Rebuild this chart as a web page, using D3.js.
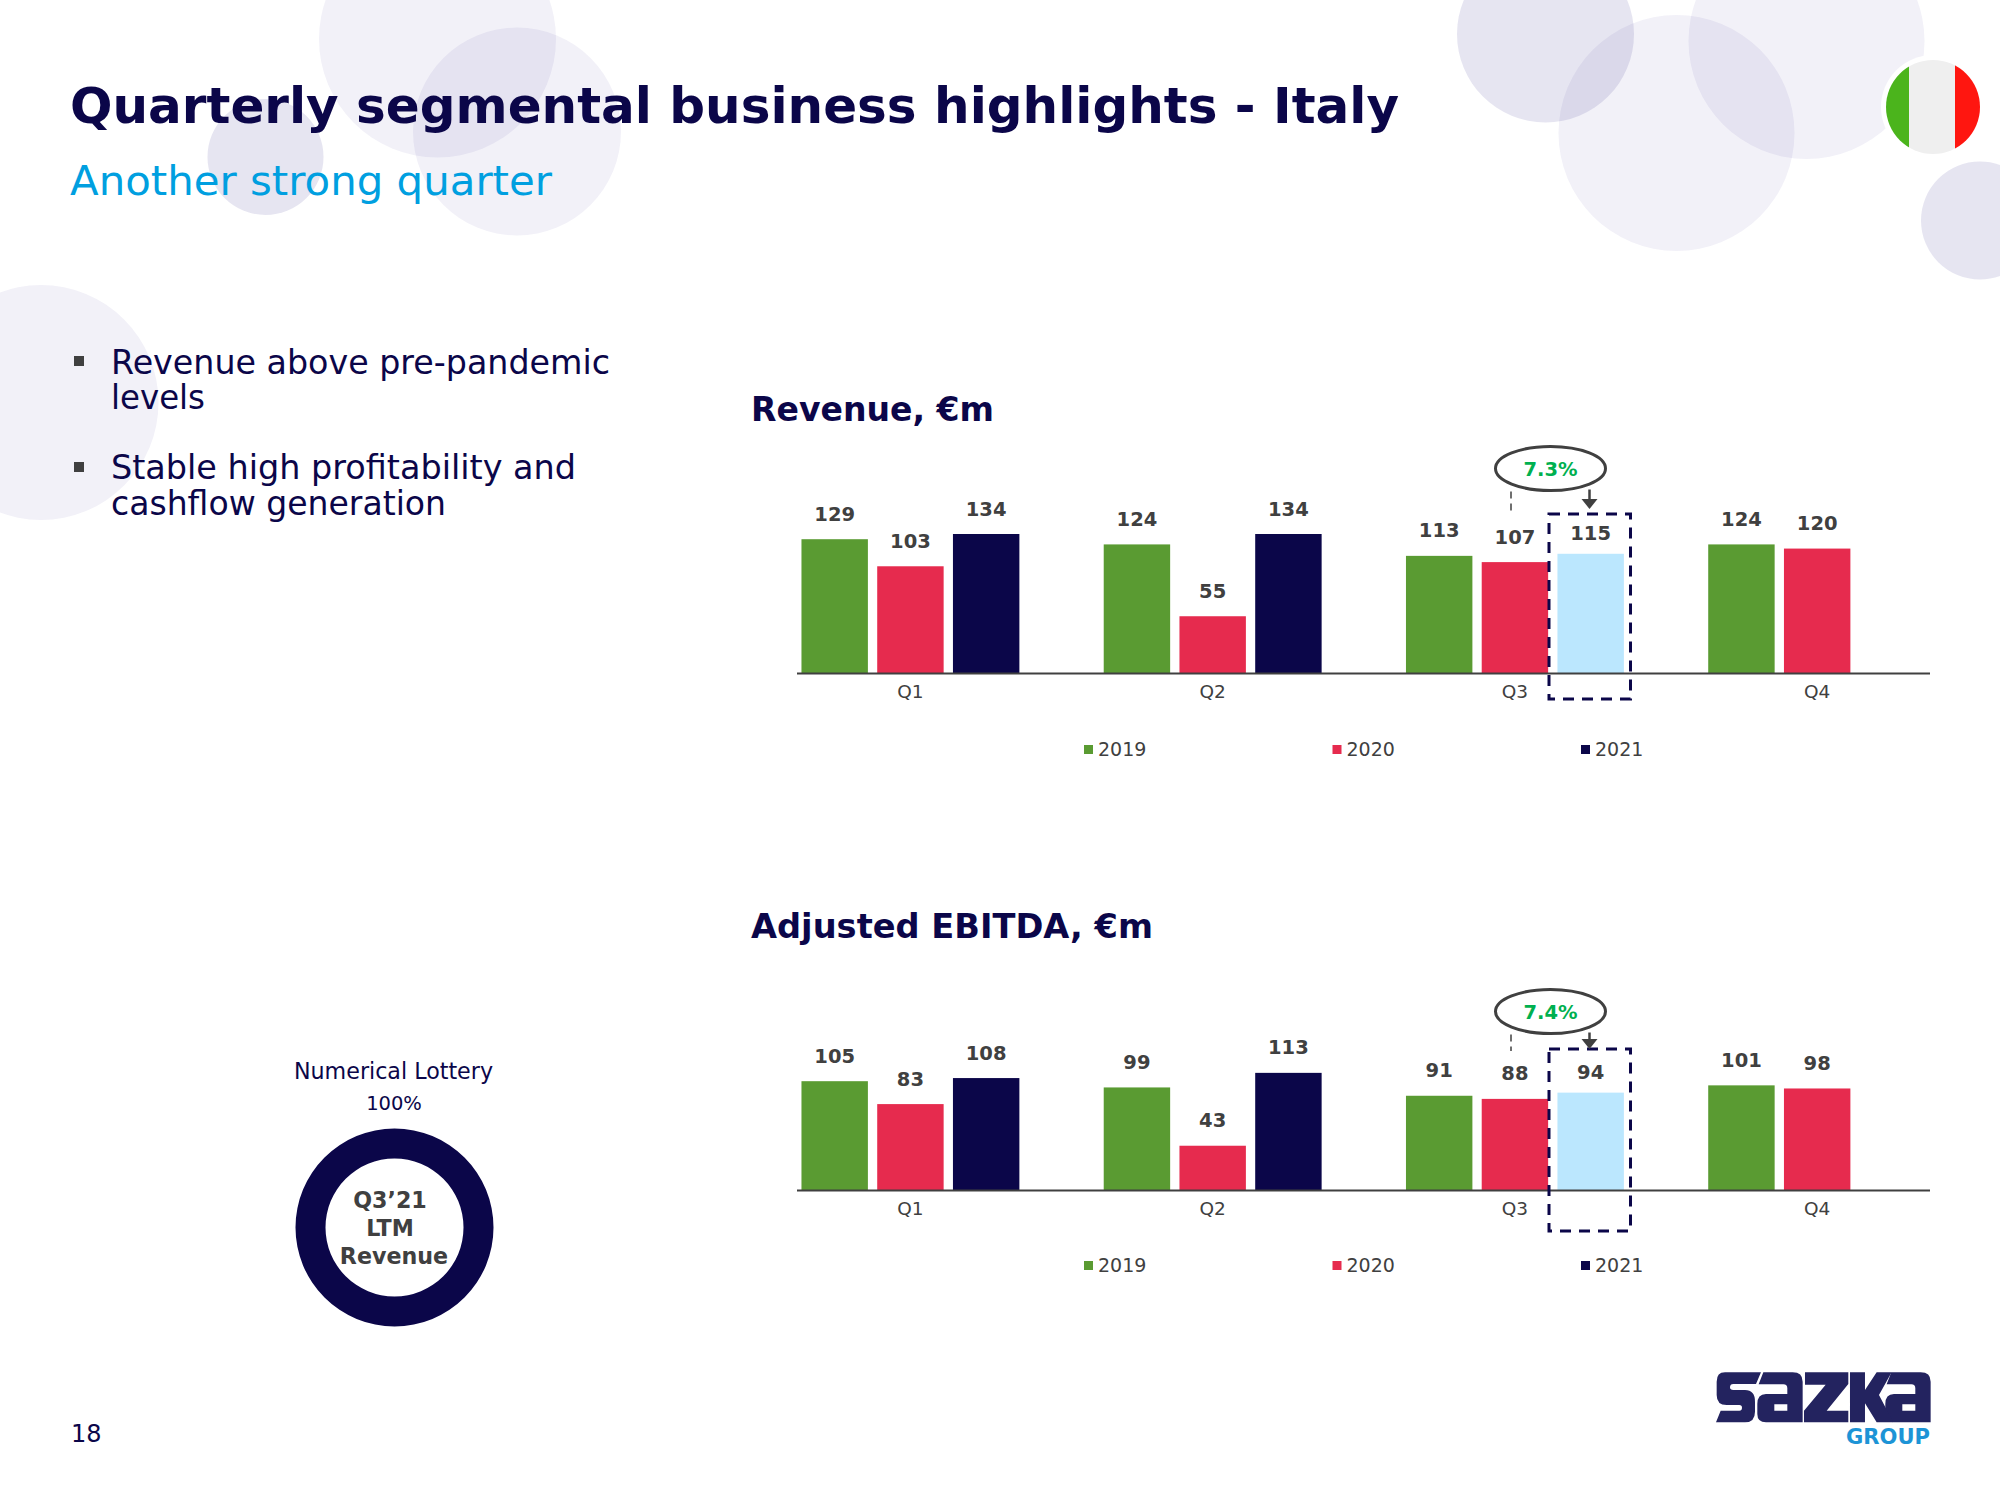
<!DOCTYPE html>
<html><head><meta charset="utf-8">
<script src="https://cdnjs.cloudflare.com/ajax/libs/d3/7.8.5/d3.min.js"></script>
<style>
html,body{margin:0;padding:0;background:#fff}
svg{display:block}
text{font-family:"DejaVu Sans",Verdana,sans-serif}
</style></head><body><div id="chart"></div>
<script>
const quarters = ["Q1","Q2","Q3","Q4"];
const years = ["2019","2020","2021"];
const revenue2019 = [129,124,113,124];
const revenue2020 = [103,55,107,120];
const revenue2021 = [134,134,115,null];
const ebitda2019 = [105,99,91,101];
const ebitda2020 = [83,43,88,98];
const ebitda2021 = [108,113,94,null];
const mixLabels = ["Numerical Lottery"];
const mixValues = [100];
const bullets = [["Revenue above pre-pandemic","levels"],["Stable high profitability and","cashflow generation"]];

const NAVY="#0b0649", GREEN="#5a9b32", RED="#e62b4e", PALE="#bbe7fe", GREY="#404040", TEAL="#00b050", CYAN="#009fe0";
const yearColor = d3.scaleOrdinal().domain(years).range([GREEN,RED,NAVY]);

const svg = d3.select("#chart").append("svg").attr("width",2000).attr("height",1500);
svg.append("rect").attr("width",2000).attr("height",1500).attr("fill","#fff");

// background bubbles
[[437.5,39,118.5,.06],[517,131.5,104,.06],[265.5,157,58,.11],[41,402.5,117.5,.06],
 [1545.5,34,88.5,.11],[1676.5,133,118,.06],[1806.5,41,118,.06],[1980,220.5,59,.11]]
 .forEach(c=>svg.append("circle").attr("cx",c[0]).attr("cy",c[1]).attr("r",c[2]).attr("fill","#1c1480").attr("fill-opacity",c[3]));

// flag
svg.append("circle").attr("cx",1933).attr("cy",107).attr("r",52).attr("fill","#fff");
const clip = svg.append("clipPath").attr("id","flagClip");
clip.append("circle").attr("cx",1933).attr("cy",107).attr("r",47);
const flag = svg.append("g").attr("clip-path","url(#flagClip)");
[[1886,23,"#4bb41c"],[1909,46,"#efefef"],[1955,25,"#ff1610"]].forEach(s=>
  flag.append("rect").attr("x",s[0]).attr("y",60).attr("width",s[1]).attr("height",94).attr("fill",s[2]));

// headings
svg.append("text").attr("x",70).attr("y",123).attr("font-size",50).attr("font-weight",700).attr("fill",NAVY)
  .attr("textLength",1329).attr("lengthAdjust","spacingAndGlyphs").text("Quarterly segmental business highlights - Italy");
svg.append("text").attr("x",70).attr("y",195).attr("font-size",40).attr("fill",CYAN)
  .attr("textLength",482).attr("lengthAdjust","spacingAndGlyphs").text("Another strong quarter");

// bullets
const bulletY=[[373.5,409],[479,515]], bulletW=[[499,94],[465,335]];
bullets.forEach((lines,i)=>{
  svg.append("rect").attr("x",74).attr("y",[356,462][i]).attr("width",10).attr("height",10).attr("fill",GREY);
  lines.forEach((l,j)=>svg.append("text").attr("x",111).attr("y",bulletY[i][j]).attr("font-size",33).attr("fill",NAVY)
     .attr("textLength",bulletW[i][j]).attr("lengthAdjust","spacingAndGlyphs").text(l));
});

// page number
svg.append("text").attr("x",71).attr("y",1442).attr("font-size",24).attr("fill",NAVY).text("18");

// shared scales
const x0 = d3.scaleBand().domain(quarters).range([759.3,1968.3]).paddingInner(0).paddingOuter(0);
const x1 = d3.scaleBand().domain(years).range([-113.5,113.5]).paddingInner(0.123).paddingOuter(0.06);

function barChart(o){
  const y = d3.scaleLinear().domain([0,134]).range([o.base,o.base-139.5]);
  const rows = years.flatMap((yr,k)=>quarters.map((q,i)=>({q,yr,v:o.series[k][i]}))).filter(d=>d.v!=null);
  svg.append("text").attr("x",751).attr("y",o.titleY).attr("font-size",33.5).attr("font-weight",700).attr("fill",NAVY)
    .attr("textLength",o.titleW).attr("lengthAdjust","spacingAndGlyphs").text(o.title);

  svg.append("g").selectAll("rect").data(rows).join("rect")
    .attr("x",d=>x0(d.q)+x0.bandwidth()/2+x1(d.yr)).attr("width",x1.bandwidth())
    .attr("y",d=>y(d.v)).attr("height",d=>y(0)-y(d.v))
    .attr("fill",d=>d.q==="Q3"&&d.yr==="2021"?PALE:yearColor(d.yr));

  svg.append("g").selectAll("text").data(rows).join("text")
    .attr("x",d=>x0(d.q)+x0.bandwidth()/2+x1(d.yr)+x1.bandwidth()/2)
    .attr("y",d=>y(d.v)-(d.q==="Q3"&&d.yr==="2021"?14:18.5))
    .attr("text-anchor","middle").attr("font-size",19.5).attr("font-weight",700).attr("fill",GREY).text(d=>d.v);

  const ax = svg.append("g").attr("transform",`translate(0,${o.base})`).call(d3.axisBottom(x0).tickSize(0).tickPadding(11));
  ax.select(".domain").remove();
  ax.selectAll("text").attr("font-size",18.5).attr("font-family",'"DejaVu Sans",sans-serif').attr("fill",GREY);
  svg.append("line").attr("x1",797).attr("x2",1930).attr("y1",o.base).attr("y2",o.base).attr("stroke",GREY).attr("stroke-width",2);

  // legend
  const lx=d3.scalePoint().domain(years).range([1084,1581]);
  const lg=svg.append("g").selectAll("g").data(years).join("g").attr("transform",d=>`translate(${lx(d)},${o.legendY})`);
  lg.append("rect").attr("y",-4).attr("width",9).attr("height",9).attr("fill",d=>yearColor(d));
  lg.append("text").attr("x",14).attr("y",6.5).attr("font-size",19).attr("fill",GREY).text(d=>d);

  // highlight box and growth callout
  svg.append("rect").attr("x",1549).attr("y",o.boxTop).attr("width",81.5).attr("height",o.boxBottom-o.boxTop)
    .attr("fill","none").attr("stroke",NAVY).attr("stroke-width",3).attr("stroke-dasharray","11,8");
  svg.append("ellipse").attr("cx",1550.5).attr("cy",o.ellY).attr("rx",55).attr("ry",22).attr("fill","#fff").attr("stroke",GREY).attr("stroke-width",3);
  svg.append("text").attr("x",1550.5).attr("y",o.ellY+7).attr("text-anchor","middle").attr("font-size",19.5).attr("font-weight",700).attr("fill",TEAL).text(o.growth);
  svg.append("line").attr("x1",1511).attr("x2",1511).attr("y1",o.ellY+23).attr("y2",o.dashEnd).attr("stroke",GREY).attr("stroke-width",1.5).attr("stroke-dasharray","7,5");
  svg.append("line").attr("x1",1589.5).attr("x2",1589.5).attr("y1",o.ellY+21).attr("y2",o.arrowEnd-8).attr("stroke",GREY).attr("stroke-width",2.5);
  svg.append("path").attr("d",d3.line()([[1581.5,o.arrowEnd-10],[1597.5,o.arrowEnd-10],[1589.5,o.arrowEnd]])).attr("fill",GREY);
}

barChart({title:"Revenue, €m",titleW:243,titleY:421,base:673.5,legendY:749,series:[revenue2019,revenue2020,revenue2021],growth:"7.3%",ellY:468.5,dashEnd:514,arrowEnd:509,boxTop:514,boxBottom:699});
barChart({title:"Adjusted EBITDA, €m",titleW:402,titleY:938,base:1190.5,legendY:1265,series:[ebitda2019,ebitda2020,ebitda2021],growth:"7.4%",ellY:1011.5,dashEnd:1051,arrowEnd:1049,boxTop:1049,boxBottom:1231});

// donut
const pie=d3.pie().sort(null)(mixValues);
const arc=d3.arc().innerRadius(69).outerRadius(99);
svg.append("g").attr("transform","translate(394.5,1227.5)").selectAll("path").data(pie).join("path").attr("d",arc).attr("fill",NAVY);
svg.append("text").attr("x",393.5).attr("y",1079).attr("text-anchor","middle").attr("font-size",22.2).attr("fill",NAVY).text(mixLabels[0]);
svg.append("text").attr("x",394).attr("y",1109.5).attr("text-anchor","middle").attr("font-size",19.5).attr("fill",NAVY).text(mixValues[0]+"%");
[["Q3’21",390,1208],["LTM",390,1236],["Revenue",394,1264]].forEach(t=>
  svg.append("text").attr("x",t[1]).attr("y",t[2]).attr("text-anchor","middle").attr("font-size",22.2).attr("font-weight",700).attr("fill",GREY).text(t[0]));

// logo
const logo=svg.append("g").attr("transform","translate(1680,1340) scale(.3333)").attr("fill","#23235f").attr("fill-rule","evenodd");
logo.append("path").attr("d","M135 97H243L228 132H160Q150 132 150 142Q150 150 160 150H195Q225 150 225 185V215Q225 247 195 247H108L122 212H178Q186 212 186 203Q186 195 178 195H140Q110 195 110 165V125Q110 97 135 97Z");
const aPath="M250 97H338Q368 97 368 125V247H258Q232 247 232 222V192Q232 162 258 162H322V145Q322 133 310 133H236ZM283 193V212H322V193Z";
logo.append("path").attr("d",aPath);
logo.append("path").attr("d",aPath).attr("transform","translate(384,0)");
logo.append("path").attr("d","M375 97H505V132L440 212H505V247H372V212L437 134H375Z");
logo.append("path").attr("d","M510 97H555V150L590 97H635L597 165L640 247H590L555 190V247H510Z");
svg.append("text").attr("x",1846).attr("y",1444).attr("font-size",22).attr("font-weight",700).attr("fill","#1d94d6")
  .attr("textLength",84).attr("lengthAdjust","spacingAndGlyphs").text("GROUP");
</script></body></html>
